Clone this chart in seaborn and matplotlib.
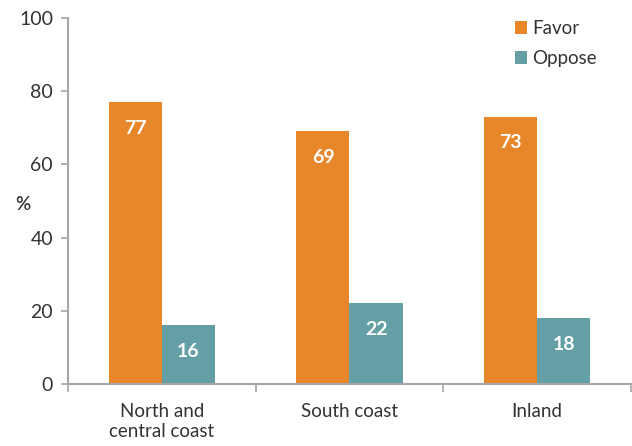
#!/usr/bin/env python3
"""Favor / oppose shares by region, grouped bar chart."""

import matplotlib.pyplot as plt
import pandas as pd
import seaborn as sns
from matplotlib.patches import Patch

REGIONS = ["North and\ncentral coast", "South coast", "Inland"]
FAVOR = [77, 69, 73]
OPPOSE = [16, 22, 18]
SERIES = ["Favor", "Oppose"]
COLORS = ["#E8862A", "#639FA5"]
Y_TICKS = [0, 20, 40, 60, 80, 100]

sns.set_style("white")
plt.rcParams["font.family"] = ["Lato", "DejaVu Sans"]
GREY_TEXT = "#333333"
GREY_LINE = "#A6A6A6"

df = pd.DataFrame({"region": REGIONS * 2,
                   "series": [SERIES[0]] * 3 + [SERIES[1]] * 3,
                   "value": FAVOR + OPPOSE})

fig = plt.figure(figsize=(6.32, 4.46), dpi=100)
ax = fig.add_axes([0.108, 0.139, 0.89, 0.821])
sns.barplot(data=df, x="region", y="value", hue="series", ax=ax,
            palette=COLORS, width=0.566, gap=0, saturation=1,
            linewidth=0, legend=False)

# Value labels inside the bar tops
for c in ax.containers:
    ax.bar_label(c, padding=-25, color="white", fontsize=14,
                 fontweight="bold")

# Axes
ax.set_ylim(0, 100)
ax.set_xlim(-0.5, 2.5)
ax.set_yticks(Y_TICKS)
ax.set_xlabel("")
ax.set_ylabel("%", rotation=0, fontsize=13.5, color=GREY_TEXT,
              fontweight="semibold", va="center", ha="center")
ax.yaxis.set_label_coords(-0.08, 0.49)
ax.tick_params(axis="y", labelsize=14, colors=GREY_LINE, labelcolor=GREY_TEXT,
               left=True, length=5, width=1.2, pad=6)
ax.tick_params(axis="x", which="major", labelsize=13.5, labelcolor=GREY_TEXT,
               length=0, pad=14)
ax.set_xticks([-0.5, 0.5, 1.5, 2.5], minor=True)
ax.tick_params(axis="x", which="minor", bottom=True, length=6, width=1.2,
               colors=GREY_LINE)
for s in ("top", "right"):
    ax.spines[s].set_visible(False)
for s in ("left", "bottom"):
    ax.spines[s].set_color(GREY_LINE)
    ax.spines[s].set_linewidth(1.5)

# Legend with square markers
handles = [Patch(facecolor=c, edgecolor="none") for c in COLORS]
leg = ax.legend(handles, SERIES, loc="upper right", bbox_to_anchor=(0.97, 1.04),
                frameon=False, fontsize=13.5, handlelength=0.65,
                handleheight=0.65, handletextpad=0.3, labelspacing=0.7)
for t in leg.get_texts():
    t.set_color(GREY_TEXT)

plt.savefig("out.png", dpi=100)
